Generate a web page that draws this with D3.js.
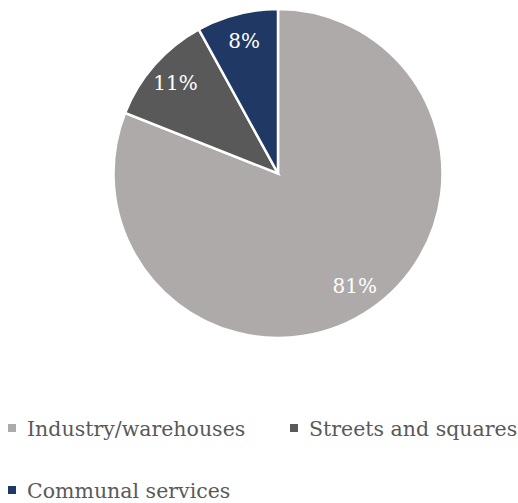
<!DOCTYPE html>
<html>
<head>
<meta charset="utf-8">
<script src="https://cdn.jsdelivr.net/npm/d3@7"></script>
<style>
  html, body { margin: 0; padding: 0; background: #fff; }
  svg { display: block; }
</style>
</head>
<body>
<svg id="chart" width="518" height="503"></svg>
<script>
// Land use shares
const categories = ["Industry/warehouses", "Streets and squares", "Communal services"];
const values = [81, 11, 8];
const colors = ["#ADAAA9", "#595959", "#1F3864"];

const svg = d3.select("#chart");
const cx = 278, cy = 173.5, radius = 164.5;
const fontFamily = "DejaVu Serif";

const color = d3.scaleOrdinal().domain(categories).range(colors);
const data = categories.map((c, i) => ({ category: c, value: values[i] }));

const pie = d3.pie().value(d => d.value).sort(null);
const arc = d3.arc().innerRadius(0).outerRadius(radius);
const labelArc = d3.arc().innerRadius(radius * 0.83).outerRadius(radius * 0.83);

const g = svg.append("g").attr("transform", `translate(${cx},${cy})`);
const arcs = pie(data);

g.selectAll("path")
  .data(arcs)
  .join("path")
  .attr("d", arc)
  .attr("fill", d => color(d.data.category))
  .attr("stroke", "#fff")
  .attr("stroke-width", 2.5)
  .attr("stroke-linejoin", "miter");

g.selectAll("text")
  .data(arcs)
  .join("text")
  .attr("transform", d => `translate(${labelArc.centroid(d)})`)
  .attr("text-anchor", "middle")
  .attr("dominant-baseline", "central")
  .attr("fill", "#fff")
  .attr("font-family", fontFamily)
  .attr("font-size", 20)
  .text(d => d.data.value + "%");

// Legend
const legendPos = [
  { x: 8, y: 436 },
  { x: 290, y: 436 },
  { x: 8, y: 498 }
];
const legend = svg.append("g");
const items = legend.selectAll("g")
  .data(categories)
  .join("g")
  .attr("transform", (d, i) => `translate(${legendPos[i].x},${legendPos[i].y})`);

items.append("rect")
  .attr("x", 0)
  .attr("y", -12)
  .attr("width", 8)
  .attr("height", 8)
  .attr("fill", d => color(d));

items.append("text")
  .attr("x", 19)
  .attr("y", 0)
  .attr("fill", "#595959")
  .attr("font-family", fontFamily)
  .attr("font-size", 20.5)
  .text(d => d);
</script>
</body>
</html>
